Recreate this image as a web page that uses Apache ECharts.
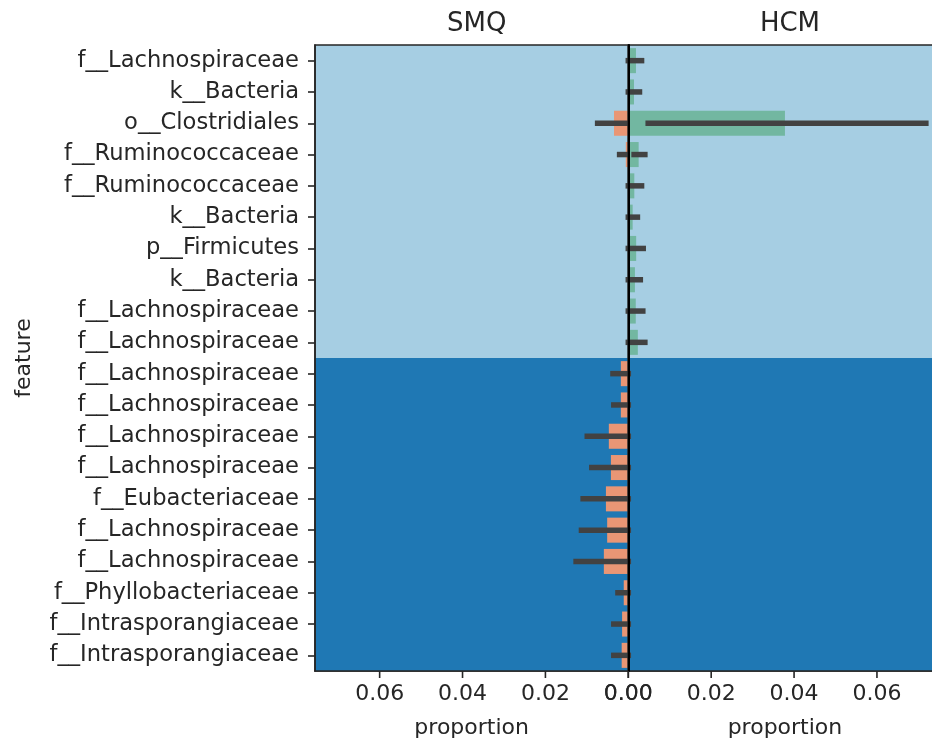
<!DOCTYPE html>
<html><head><meta charset="utf-8">
<script src="https://cdn.jsdelivr.net/npm/echarts@6/dist/echarts.min.js"></script>
<style>html,body{margin:0;padding:0;background:#fff}#c{width:932px;height:745px}</style>
</head><body><div id="c"></div>
<script>
const features = ['f__Lachnospiraceae','k__Bacteria','o__Clostridiales','f__Ruminococcaceae','f__Ruminococcaceae','k__Bacteria','p__Firmicutes','k__Bacteria','f__Lachnospiraceae','f__Lachnospiraceae','f__Lachnospiraceae','f__Lachnospiraceae','f__Lachnospiraceae','f__Lachnospiraceae','f__Eubacteriaceae','f__Lachnospiraceae','f__Lachnospiraceae','f__Phyllobacteriaceae','f__Intrasporangiaceae','f__Intrasporangiaceae'];
const panels = ['SMQ', 'HCM'];
const groupSizes = [10, 10];
const tickValues = [0, 0.02, 0.04, 0.06];
const xMax = 0.0756;
// SMQ proportions (mean, CI low, CI high)
const smqMean = [0, 0, 0.00345, 0.0006, 0, 0, 0, 0, 0, 0, 0.0018, 0.0018, 0.0047, 0.0042, 0.0054, 0.0051, 0.0059, 0.0011, 0.0015, 0.0016];
const smqLow  = [0, 0, 0.0003, 0.0001, 0, 0, 0, 0, 0, 0, 0.0002, 0.0002, 0.0005, 0.0005, 0.0005, 0.0005, 0.0005, 0.0001, 0.0002, 0.0002];
const smqHigh = [0, 0, 0.0074, 0.0021, 0, 0, 0, 0, 0, 0, 0.0037, 0.0035, 0.0099, 0.0088, 0.0109, 0.0113, 0.0126, 0.0025, 0.0035, 0.0035];
// HCM proportions (mean, CI low, CI high)
const hcmMean = [0.00185, 0.00137, 0.0378, 0.0025, 0.00145, 0.00105, 0.0019, 0.0016, 0.0018, 0.0023, 0, 0, 0, 0, 0, 0, 0, 0, 0, 0];
const hcmLow  = [0.0004, 0.0003, 0.0048, 0.0014, 0.0003, 0.0002, 0.0004, 0.0003, 0.0004, 0.0005, 0, 0, 0, 0, 0, 0, 0, 0, 0, 0];
const hcmHigh = [0.0032, 0.0027, 0.0718, 0.0040, 0.0032, 0.0022, 0.0036, 0.0029, 0.0035, 0.0040, 0, 0, 0, 0, 0, 0, 0, 0, 0, 0];

const FONT = 'DejaVu Sans';
const TXT = '#262626';
const SPINE = '#262626';
const bgColors = ['#a6cee3', '#1f78b4'];
const barColors = ['#e99675', '#72b7a1'];
const ERR = '#424242';
const ERR_W = 5.5;
const TICK_LEN = 7;

// category axis runs bottom-to-top, so row i (top first) sits at category position N-1-i
const N = features.length;
const pos = i => N - 1 - i;
const cats = features.map((_, i) => String(i)).reverse();
const rev = arr => arr.slice().reverse();

const bgData = (() => { const out = []; let s = 0; groupSizes.forEach((n, g) => { out.push([pos(s), pos(s + n - 1), g]); s += n; }); return out; })();

function bgRender(params, api) {
  const a = api.value(0), b = api.value(1), g = api.value(2);
  const h = api.size([0, 1])[1];
  const pa = api.coord([0, a]), pb = api.coord([0, b]);
  const y0 = Math.min(pa[1], pb[1]) - h / 2, y1 = Math.max(pa[1], pb[1]) + h / 2;
  const cs = params.coordSys;
  return { type: 'rect', shape: { x: cs.x, y: y0, width: cs.width, height: y1 - y0 }, style: { fill: bgColors[g] } };
}

function errRender(params, api) {
  const yi = api.value(0), lo = api.value(1), hi = api.value(2);
  const p1 = api.coord([lo, yi]), p2 = api.coord([hi, yi]);
  const hw = ERR_W / 2;
  let x0 = Math.min(p1[0], p2[0]) - hw, x1 = Math.max(p1[0], p2[0]) + hw;
  const cs = params.coordSys;
  x0 = Math.max(x0, cs.x); x1 = Math.min(x1, cs.x + cs.width);
  if (x1 <= x0) return null;
  return { type: 'rect', shape: { x: x0, y: p1[1] - hw, width: x1 - x0, height: ERR_W }, style: { fill: ERR } };
}

const means = [smqMean, hcmMean], lows = [smqLow, hcmLow], highs = [smqHigh, hcmHigh];
const gridDefs = [
  { left: 315, top: 45, width: 313.3, height: 626 },
  { left: 628.3, top: 45, width: 313.3, height: 626 }
];

const xAxes = [], yAxes = [], series = [], titles = [];
panels.forEach((name, p) => {
  xAxes.push({
    type: 'value', gridIndex: p, min: 0, max: xMax, inverse: p === 0, position: 'bottom',
    splitLine: { show: false },
    axisLine: { show: true, onZero: false, lineStyle: { color: SPINE, width: 1.6 } },
    axisTick: { show: false },
    axisLabel: { show: true, customValues: tickValues, formatter: v => v.toFixed(2), fontFamily: FONT, fontSize: 22, color: TXT, margin: 12 },
    name: 'proportion', nameLocation: 'middle', nameGap: 46, nameMoveOverlap: false,
    nameTextStyle: { fontFamily: FONT, fontSize: 22, color: TXT }
  });
  yAxes.push({
    type: 'category', gridIndex: p, data: cats, position: 'left', z: 10,
    axisLine: { show: true, onZero: false, lineStyle: { color: p === 0 ? SPINE : '#000', width: p === 0 ? 1.6 : 2 } },
    axisTick: { show: p === 0, length: 7, alignWithLabel: true, lineStyle: { color: SPINE, width: 1.6 } },
    axisLabel: { show: p === 0, formatter: v => features[+v], fontFamily: FONT, fontSize: 22.6, color: TXT, margin: 16 },
    splitLine: { show: false },
    name: p === 0 ? 'feature' : '', nameLocation: 'middle', nameRotate: 90, nameGap: 280, nameMoveOverlap: false,
    nameTextStyle: { fontFamily: FONT, fontSize: 22, color: TXT }
  });
  titles.push({ text: name, left: gridDefs[p].left + gridDefs[p].width / 2, top: 6, textAlign: 'center',
    textStyle: { fontFamily: FONT, fontSize: 26, fontWeight: 'normal', color: TXT } });
  series.push({
    type: 'custom', xAxisIndex: p, yAxisIndex: p, z: 1, silent: true,
    dimensions: ['from', 'to', 'group'], encode: { y: [0, 1] },
    data: bgData, renderItem: bgRender
  });
  series.push({
    type: 'bar', xAxisIndex: p, yAxisIndex: p, data: rev(means[p]), barWidth: '80%', z: 2,
    itemStyle: { color: barColors[p] }, silent: true
  });
  series.push({
    type: 'custom', xAxisIndex: p, yAxisIndex: p, z: 3, silent: true,
    dimensions: ['y', 'lo', 'hi'], encode: { y: 0, x: [1, 2] },
    data: features.map((_, i) => [pos(i), lows[p][i], highs[p][i]]),
    renderItem: errRender
  });
});

const chart = echarts.init(document.getElementById('c'), null, { renderer: 'canvas' });
chart.setOption({
  animation: false,
  backgroundColor: '#fff',
  title: titles,
  grid: gridDefs.map(g => Object.assign({ outerBoundsMode: 'none', containLabel: false, show: true, z: 10,
    backgroundColor: 'transparent', borderColor: SPINE, borderWidth: 1.6 }, g)),
  xAxis: xAxes,
  yAxis: yAxes,
  series: series
});

// x tick marks: positions come from each panel's x axis scale
const tickEls = [];
panels.forEach((_, p) => {
  const yb = gridDefs[p].top + gridDefs[p].height;
  tickValues.forEach(v => {
    const x = chart.convertToPixel({ xAxisIndex: p }, v);
    if (typeof x === 'number' && isFinite(x)) {
      tickEls.push({ type: 'line', silent: true, z: 100,
        shape: { x1: x, y1: yb, x2: x, y2: yb + TICK_LEN },
        style: { stroke: SPINE, lineWidth: 1.6 } });
    }
  });
});
chart.setOption({ graphic: { elements: tickEls } });
</script></body></html>
